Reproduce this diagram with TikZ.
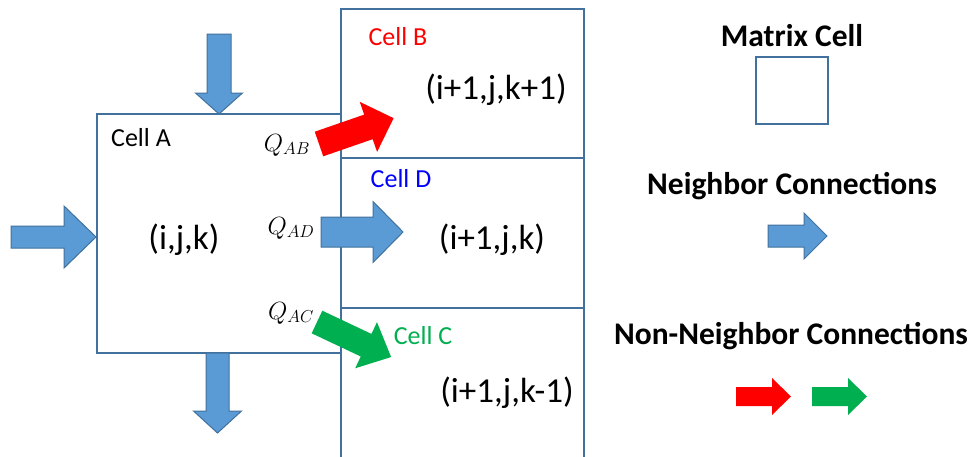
\documentclass[tikz,border=0pt]{standalone}
\usepackage{fontspec}
\setmainfont{Carlito}
\definecolor{boxline}{HTML}{41719C}
\definecolor{fillblue}{HTML}{5B9BD5}
\definecolor{cred}{HTML}{FF0000}
\definecolor{cgreen}{HTML}{00B050}
\definecolor{cblue}{HTML}{0000FF}
% style, x, y, angle, length, shaft half, head half, head length
\newcommand{\blockarrow}[8]{%
  \path[#1, shift={(#2,#3)}, rotate=#4]
    (0,-#6) -- ({#5-#8},-#6) -- ({#5-#8},-#7) -- (#5,0) -- ({#5-#8},#7) -- ({#5-#8},#6) -- (0,#6) -- cycle;}
\begin{document}
\begin{tikzpicture}[x=1pt,y=-1pt,
  cell/.style={draw=boxline, line width=1.5pt, inner sep=0pt},
  nbarrow/.style={fill=fillblue, draw=boxline, line width=1pt, line join=miter},
  redarrow/.style={fill=cred},
  greenarrow/.style={fill=cgreen},
  celllbl/.style={font=\fontsize{26}{30}\selectfont, inner sep=0pt},
  coordlbl/.style={font=\fontsize{35}{40}\selectfont, inner sep=0pt},
  legendlbl/.style={font=\bfseries\fontsize{31.5}{36}\selectfont, inner sep=0pt},
  qlbl/.style={font=\fontsize{24}{28}\selectfont, inner sep=0pt}]
\useasboundingbox (0,0) rectangle (972,456);
\clip (0,0) rectangle (972,456);
\fill[white] (0,0) rectangle (972,456);
% cells
\node[cell, minimum width=244, minimum height=239] (A) at (219,233.5) {};
\node[cell, minimum width=243, minimum height=149] (B) at (462.5,83.5) {};
\node[cell, minimum width=243, minimum height=150] (D) at (462.5,233) {};
\node[cell, minimum width=243, minimum height=162] (C) at (462.5,389) {};
% labels
\node[celllbl] (lA) at (141,138) {Cell A};
\node[coordlbl] (cA) at (184,240) {(i,j,k)};
\node[celllbl, text=cred] (lB) at (398,37) {Cell B};
\node[coordlbl] (cB) at (496,90) {(i+1,j,k+1)};
\node[celllbl, text=cblue] (lD) at (401,179) {Cell D};
\node[coordlbl] (cD) at (492,240) {(i+1,j,k)};
\node[celllbl, text=cgreen] (lC) at (423,336) {Cell C};
\node[coordlbl] (cC) at (507,393) {(i+1,j,k-1)};
\node[qlbl] (qab) at (287,145) {$Q_{AB}$};
\node[qlbl] (qad) at (291,228) {$Q_{AD}$};
\node[qlbl] (qac) at (291,313) {$Q_{AC}$};
% arrows
\blockarrow{nbarrow}{219}{34}{-90}{80}{12}{23.5}{21}
\blockarrow{nbarrow}{11}{237}{0}{85}{11}{31}{32}
\blockarrow{nbarrow}{217.5}{353}{-90}{80}{11.5}{24}{22}
\blockarrow{nbarrow}{321}{232}{0}{82}{15}{30.5}{30}
\blockarrow{redarrow}{319}{144}{19.1}{79}{13}{26.5}{26.7}
\blockarrow{greenarrow}{317}{322}{-25.3}{82}{12.5}{25.5}{27.7}
% legend
\node[legendlbl] (lgm) at (792,36) {Matrix Cell};
\node[cell, minimum width=72, minimum height=67] (lgbox) at (792,90.5) {};
\node[legendlbl] (lgn) at (792,186) {Neighbor Connections};
\blockarrow{nbarrow}{768}{236}{0}{59}{11}{23}{23}
\node[legendlbl] (lgnn) at (791,336) {Non-Neighbor Connections};
\blockarrow{redarrow}{736}{396.5}{0}{55}{9.5}{18.5}{19}
\blockarrow{greenarrow}{812}{396.5}{0}{55}{9.5}{18.5}{19}
\end{tikzpicture}
\end{document}
